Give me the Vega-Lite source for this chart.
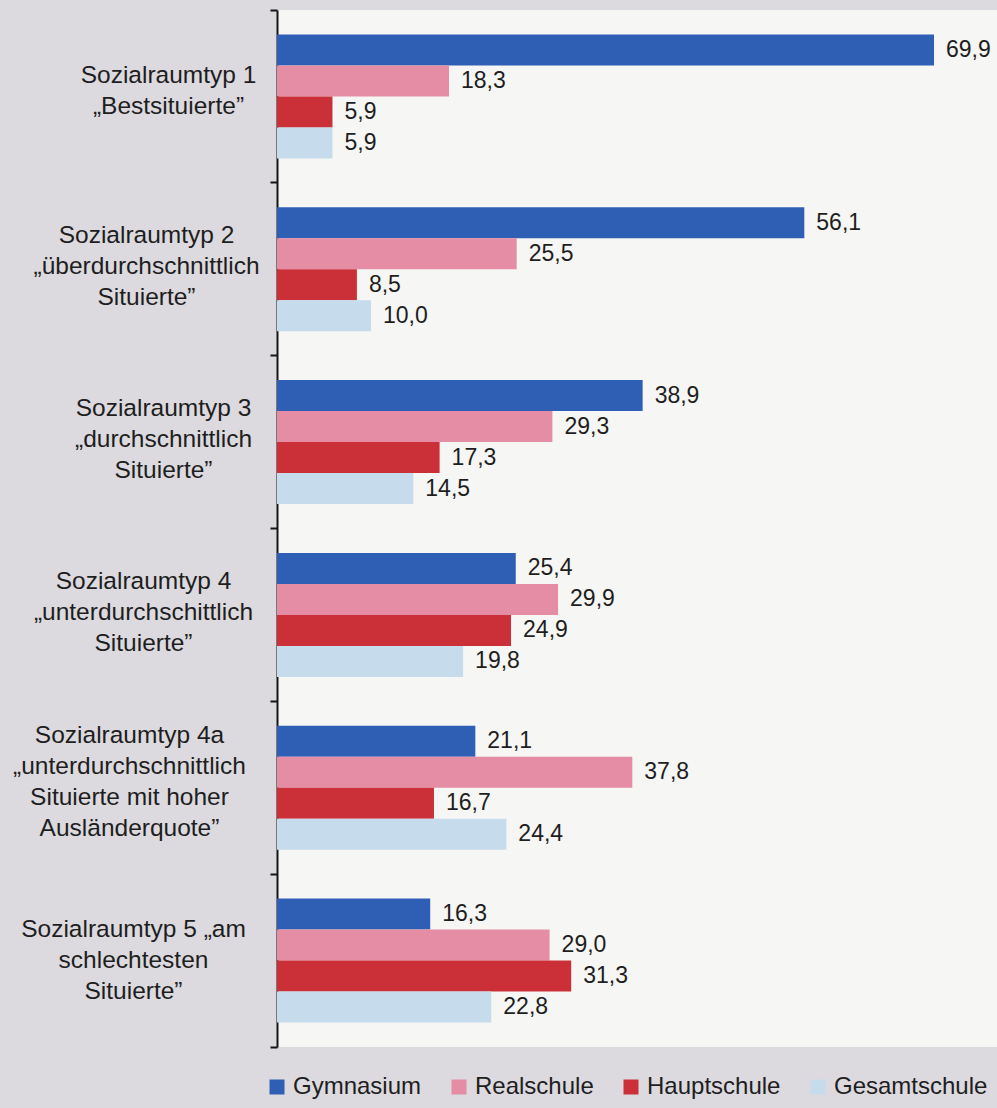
{
  "$schema": "https://vega.github.io/schema/vega-lite/v6.json",
  "width": 720,
  "height": 1037,
  "autosize": {"type": "none"},
  "padding": {"left": 277, "top": 10, "right": 0, "bottom": 61},
  "background": "#dcdadf",
  "config": {
    "locale": {"number": {"decimal": ",", "thousands": ".", "grouping": [3], "currency": ["", " €"]}},
    "view": {"fill": "#f6f6f4", "stroke": null},
    "font": "Liberation Sans"
  },
  "data": {
    "values": [
      {"gruppe": "Sozialraumtyp 1|„Bestsituierte”", "schule": "Gymnasium", "wert": 69.9},
      {"gruppe": "Sozialraumtyp 1|„Bestsituierte”", "schule": "Realschule", "wert": 18.3},
      {"gruppe": "Sozialraumtyp 1|„Bestsituierte”", "schule": "Hauptschule", "wert": 5.9},
      {"gruppe": "Sozialraumtyp 1|„Bestsituierte”", "schule": "Gesamtschule", "wert": 5.9},
      {"gruppe": "Sozialraumtyp 2|„überdurchschnittlich|Situierte”", "schule": "Gymnasium", "wert": 56.1},
      {"gruppe": "Sozialraumtyp 2|„überdurchschnittlich|Situierte”", "schule": "Realschule", "wert": 25.5},
      {"gruppe": "Sozialraumtyp 2|„überdurchschnittlich|Situierte”", "schule": "Hauptschule", "wert": 8.5},
      {"gruppe": "Sozialraumtyp 2|„überdurchschnittlich|Situierte”", "schule": "Gesamtschule", "wert": 10.0},
      {"gruppe": "Sozialraumtyp 3|„durchschnittlich|Situierte”", "schule": "Gymnasium", "wert": 38.9},
      {"gruppe": "Sozialraumtyp 3|„durchschnittlich|Situierte”", "schule": "Realschule", "wert": 29.3},
      {"gruppe": "Sozialraumtyp 3|„durchschnittlich|Situierte”", "schule": "Hauptschule", "wert": 17.3},
      {"gruppe": "Sozialraumtyp 3|„durchschnittlich|Situierte”", "schule": "Gesamtschule", "wert": 14.5},
      {"gruppe": "Sozialraumtyp 4|„unterdurchschittlich|Situierte”", "schule": "Gymnasium", "wert": 25.4},
      {"gruppe": "Sozialraumtyp 4|„unterdurchschittlich|Situierte”", "schule": "Realschule", "wert": 29.9},
      {"gruppe": "Sozialraumtyp 4|„unterdurchschittlich|Situierte”", "schule": "Hauptschule", "wert": 24.9},
      {"gruppe": "Sozialraumtyp 4|„unterdurchschittlich|Situierte”", "schule": "Gesamtschule", "wert": 19.8},
      {"gruppe": "Sozialraumtyp 4a|„unterdurchschnittlich|Situierte mit hoher|Ausländerquote”", "schule": "Gymnasium", "wert": 21.1},
      {"gruppe": "Sozialraumtyp 4a|„unterdurchschnittlich|Situierte mit hoher|Ausländerquote”", "schule": "Realschule", "wert": 37.8},
      {"gruppe": "Sozialraumtyp 4a|„unterdurchschnittlich|Situierte mit hoher|Ausländerquote”", "schule": "Hauptschule", "wert": 16.7},
      {"gruppe": "Sozialraumtyp 4a|„unterdurchschnittlich|Situierte mit hoher|Ausländerquote”", "schule": "Gesamtschule", "wert": 24.4},
      {"gruppe": "Sozialraumtyp 5 „am|schlechtesten|Situierte”", "schule": "Gymnasium", "wert": 16.3},
      {"gruppe": "Sozialraumtyp 5 „am|schlechtesten|Situierte”", "schule": "Realschule", "wert": 29.0},
      {"gruppe": "Sozialraumtyp 5 „am|schlechtesten|Situierte”", "schule": "Hauptschule", "wert": 31.3},
      {"gruppe": "Sozialraumtyp 5 „am|schlechtesten|Situierte”", "schule": "Gesamtschule", "wert": 22.8}
    ]
  },
  "encoding": {
    "y": {
      "field": "gruppe",
      "type": "nominal",
      "sort": null,
      "scale": {"paddingInner": 0, "paddingOuter": 0},
      "axis": {
        "title": null,
        "domain": true,
        "domainColor": "#151515",
        "domainWidth": 2,
        "ticks": true,
        "tickSize": 7,
        "tickWidth": 2,
        "tickColor": "#151515",
        "bandPosition": 1,
        "tickExtra": true,
        "labelExpr": "split(datum.label, '|')",
        "labelAlign": "center",
        "labelBaseline": "middle",
        "labelPadding": {
          "condition": [
            {"test": "datum.index < 0.1", "value": 102},
            {"test": "datum.index < 0.3", "value": 124},
            {"test": "datum.index < 0.5", "value": 107},
            {"test": "datum.index < 0.7", "value": 127},
            {"test": "datum.index < 0.9", "value": 141}
          ],
          "value": 137
        },
        "labelOffset": {
          "condition": [
            {"test": "datum.index < 0.1", "value": -20},
            {"test": "datum.index < 0.7", "value": -33},
            {"test": "datum.index < 0.9", "value": -52}
          ],
          "value": -31
        },
        "labelFont": "Liberation Sans",
        "labelFontSize": 24.5,
        "labelLineHeight": 31,
        "labelColor": "#1e1e1e",
        "labelLimit": 400,
        "labelOverlap": false
      }
    },
    "yOffset": {
      "field": "schule",
      "type": "nominal",
      "sort": ["Gymnasium", "Realschule", "Hauptschule", "Gesamtschule"],
      "scale": {"paddingInner": 0, "paddingOuter": 0.787}
    },
    "x": {
      "field": "wert",
      "type": "quantitative",
      "scale": {"domain": [0, 76.6], "nice": false, "zero": true},
      "axis": null
    }
  },
  "layer": [
    {
      "mark": {"type": "bar"},
      "encoding": {
        "color": {
          "field": "schule",
          "type": "nominal",
          "sort": ["Gymnasium", "Realschule", "Hauptschule", "Gesamtschule"],
          "scale": {
            "domain": ["Gymnasium", "Realschule", "Hauptschule", "Gesamtschule"],
            "range": ["#2f5fb5", "#e58da4", "#cb3038", "#c6dcec"]
          },
          "legend": {
            "orient": "none",
            "legendX": -12,
            "legendY": 1065,
            "direction": "horizontal",
            "columns": 4,
            "title": null,
            "padding": 0,
            "symbolType": "square",
            "symbolSize": 225,
            "symbolStrokeWidth": 0,
            "labelFont": "Liberation Sans",
            "labelFontSize": 24,
            "labelColor": "#1e1e1e",
            "labelOffset": 4,
            "labelLimit": 300,
            "columnPadding": 25
          }
        }
      }
    },
    {
      "mark": {"type": "text", "align": "left", "baseline": "middle", "dx": 12, "fontSize": 23, "font": "Liberation Sans", "color": "#1e1e1e"},
      "encoding": {
        "text": {"field": "wert", "type": "quantitative", "format": ".1f"}
      }
    }
  ]
}
